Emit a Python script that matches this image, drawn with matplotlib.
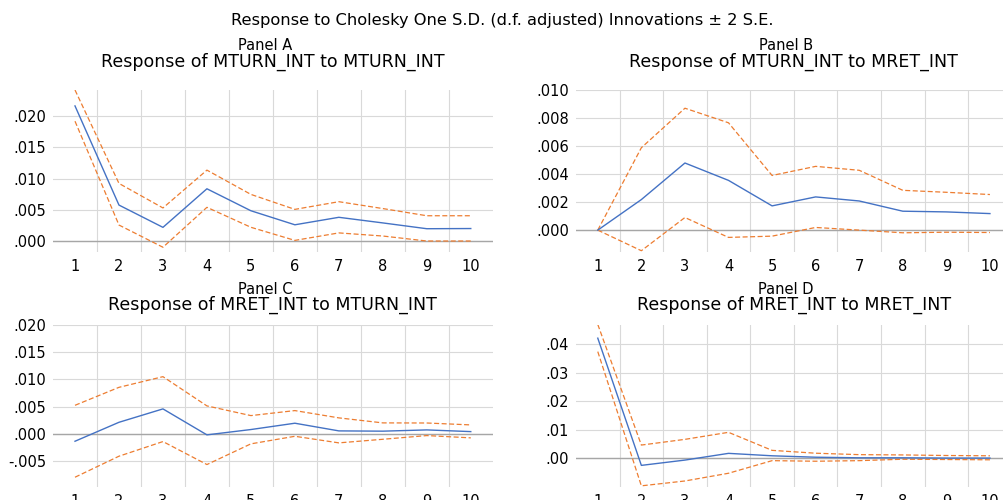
import matplotlib
matplotlib.use("Agg")
import matplotlib.pyplot as plt
from matplotlib.ticker import FuncFormatter, FixedLocator
import numpy as np

# periods
periods = [1, 2, 3, 4, 5, 6, 7, 8, 9, 10]

# Panel A: MTURN_INT to MTURN_INT
a_resp = [0.02165, 0.00576, 0.00219, 0.00837, 0.00485, 0.0026, 0.0038, 0.0029, 0.00197, 0.0020]
a_up = [0.0242, 0.00923, 0.0053, 0.01136, 0.00747, 0.00507, 0.0063, 0.0052, 0.00405, 0.00405]
a_lo = [0.0192, 0.00256, -0.0010, 0.0054, 0.0022, 0.0001, 0.0013, 0.0008, 0.0, 0.0]

# Panel B: MTURN_INT to MRET_INT
b_resp = [0.0, 0.00218, 0.00479, 0.00355, 0.00173, 0.00237, 0.00208, 0.00135, 0.0013, 0.00118]
b_up = [0.0, 0.00588, 0.0087, 0.00766, 0.0039, 0.00455, 0.00427, 0.00284, 0.0027, 0.00254]
b_lo = [0.0, -0.00147, 0.0009, -0.00052, -0.00043, 0.00019, 0.0, -0.00019, -0.00015, -0.00017]

# Panel C: MRET_INT to MTURN_INT
c_resp = [-0.00135, 0.00213, 0.00459, -0.00018, 0.0008, 0.00196, 0.00055, 0.0005, 0.00073, 0.00042]
c_up = [0.00525, 0.00855, 0.01051, 0.00514, 0.00336, 0.00428, 0.00294, 0.00202, 0.0020, 0.00165]
c_lo = [-0.00796, -0.0041, -0.00141, -0.00563, -0.00183, -0.00044, -0.00165, -0.00099, -0.00031, -0.00073]

# Panel D: MRET_INT to MRET_INT
d_resp = [0.042, -0.00245, -0.0006, 0.00175, 0.0009, 0.0004, 0.0002, 0.0002, 0.0001, 0.0001]
d_up = [0.0468, 0.00465, 0.00664, 0.0091, 0.0028, 0.0018, 0.0013, 0.0012, 0.0010, 0.0009]
d_lo = [0.0373, -0.0096, -0.0079, -0.0052, -0.0008, -0.0010, -0.0008, -0.0003, -0.0004, -0.0005]

BLUE = "#4472C4"
ORANGE = "#ED7D31"

plt.rcParams['font.family'] = ['DejaVu Sans']

W, H = 1004, 500
fig = plt.figure(figsize=(W / 100, H / 100), dpi=100)

def fmt(decimals):
    def f(v, pos):
        s = f"{abs(v):.{decimals}f}"
        if s.startswith("0"):
            s = s[1:]
        if v < 0 and float(s) != 0:
            s = "-" + s
        return s
    return FuncFormatter(f)

# rect, panel name, title, series, ylim, yticks, decimals, (panel y px, title y px)
panels = [
    ([0.0528, 0.496, 0.438, 0.324], "Panel A", "Response of MTURN_INT to MTURN_INT",
     a_resp, a_up, a_lo, (-0.00176, 0.0242), np.arange(0, 0.0201, 0.005), 3, (45, 62)),
    ([0.5737, 0.4966, 0.434, 0.3234], "Panel B", "Response of MTURN_INT to MRET_INT",
     b_resp, b_up, b_lo, (-0.00154, 0.0100), np.arange(0, 0.01001, 0.002), 3, (45, 62)),
    ([0.0528, 0.0266, 0.438, 0.3234], "Panel C", "Response of MRET_INT to MTURN_INT",
     c_resp, c_up, c_lo, (-0.0097, 0.0200), np.arange(-0.005, 0.0201, 0.005), 3, (289, 305)),
    ([0.5737, 0.0266, 0.434, 0.3234], "Panel D", "Response of MRET_INT to MRET_INT",
     d_resp, d_up, d_lo, (-0.0099, 0.0466), np.arange(0, 0.0401, 0.01), 2, (289, 305)),
]

for rect, name, title, resp, up, lo, ylim, yt, dec, ty in panels:
    ax = fig.add_axes(rect)
    ax.plot(periods, up, color=ORANGE, lw=0.9, ls=(0, (4, 2)), zorder=3)
    ax.plot(periods, lo, color=ORANGE, lw=0.9, ls=(0, (4, 2)), zorder=3)
    ax.plot(periods, resp, color=BLUE, lw=1.0, zorder=4)
    ax.axhline(0, color="#A6A6A6", lw=1.0, zorder=2)
    ax.set_xlim(0.5, 10.5)
    ax.set_ylim(*ylim)
    ax.set_xticks(periods)
    ax.xaxis.set_minor_locator(FixedLocator(np.arange(1.5, 10, 1.0)))
    ax.set_yticks(yt)
    ax.yaxis.set_major_formatter(fmt(dec))
    ax.grid(which="minor", axis="x", color="#D9D9D9", lw=0.8)
    ax.grid(which="major", axis="y", color="#D9D9D9", lw=0.8)
    ax.set_axisbelow(True)
    for s in ax.spines.values():
        s.set_visible(False)
    ax.tick_params(which="both", length=0, labelsize=10.5, colors="#000000")
    ax.tick_params(axis="x", pad=5)
    ax.tick_params(axis="y", pad=5)
    cx = rect[0] + rect[2] / 2
    fig.text(cx - 0.008, 1 - ty[0] / H, name, ha="center", va="center", fontsize=10.5)
    fig.text(cx, 1 - ty[1] / H, title, ha="center", va="center", fontsize=12.5)

fig.text(0.5, 1 - 20 / H, "Response to Cholesky One S.D. (d.f. adjusted) Innovations \u00b1 2 S.E.",
         ha="center", va="center", fontsize=11.7)

fig.savefig("out.png", dpi=100)
